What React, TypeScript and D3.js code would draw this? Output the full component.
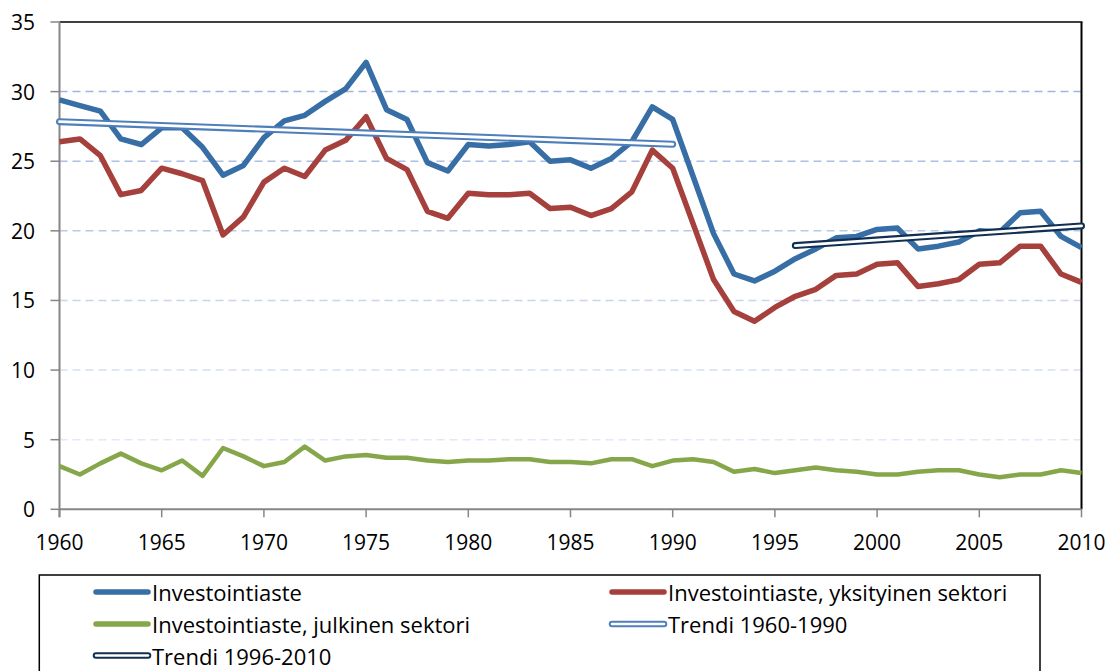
import * as d3 from 'd3';

const years = d3.range(1960, 2011);

const total = [
  29.4, 29.0, 28.6, 26.6, 26.2, 27.4, 27.4, 26.0, 24.0, 24.7,
  26.7, 27.9, 28.3, 29.3, 30.2, 32.1, 28.7, 28.0, 24.9, 24.3,
  26.2, 26.1, 26.2, 26.4, 25.0, 25.1, 24.5, 25.2, 26.4, 28.9,
  28.0, 23.9, 19.8, 16.9, 16.4, 17.1, 18.0, 18.7, 19.5, 19.6,
  20.1, 20.2, 18.7, 18.9, 19.2, 20.0, 19.9, 21.3, 21.4, 19.6,
  18.8,
];

const privateSector = [
  26.4, 26.6, 25.4, 22.6, 22.9, 24.5, 24.1, 23.6, 19.7, 21.0,
  23.5, 24.5, 23.9, 25.8, 26.5, 28.2, 25.2, 24.4, 21.4, 20.9,
  22.7, 22.6, 22.6, 22.7, 21.6, 21.7, 21.1, 21.6, 22.8, 25.8,
  24.5, 20.5, 16.5, 14.2, 13.5, 14.5, 15.3, 15.8, 16.8, 16.9,
  17.6, 17.7, 16.0, 16.2, 16.5, 17.6, 17.7, 18.9, 18.9, 16.9,
  16.3,
];

const publicSector = [
  3.1, 2.5, 3.3, 4.0, 3.3, 2.8, 3.5, 2.4, 4.4, 3.8,
  3.1, 3.4, 4.5, 3.5, 3.8, 3.9, 3.7, 3.7, 3.5, 3.4,
  3.5, 3.5, 3.6, 3.6, 3.4, 3.4, 3.3, 3.6, 3.6, 3.1,
  3.5, 3.6, 3.4, 2.7, 2.9, 2.6, 2.8, 3.0, 2.8, 2.7,
  2.5, 2.5, 2.7, 2.8, 2.8, 2.5, 2.3, 2.5, 2.5, 2.8,
  2.6,
];

const trend1960 = [
  { year: 1960, value: 27.84 },
  { year: 1990, value: 26.22 },
];
const trend1996 = [
  { year: 1996, value: 18.94 },
  { year: 2010, value: 20.35 },
];

const yTicks = [0, 5, 10, 15, 20, 25, 30, 35];
const xTicks = [1960, 1965, 1970, 1975, 1980, 1985, 1990, 1995, 2000, 2005, 2010];

const BLUE = '#386ea6';
const RED = '#a5403c';
const GREEN = '#86a64a';
const TREND1 = '#4f7fbb';
const TREND2 = '#112f52';
const FONT = '"Open Sans", Lato, sans-serif';

const legendItems = [
  { label: 'Investointiaste', color: BLUE, double: false, col: 0, row: 0 },
  { label: 'Investointiaste, yksityinen sektori', color: RED, double: false, col: 1, row: 0 },
  { label: 'Investointiaste, julkinen sektori', color: GREEN, double: false, col: 0, row: 1 },
  { label: 'Trendi 1960-1990', color: TREND1, double: true, col: 1, row: 1 },
  { label: 'Trendi 1996-2010', color: TREND2, double: true, col: 0, row: 2 },
];

export default function App() {
  const width = 1116;
  const height = 671;
  const left = 59.5;
  const right = 1081.5;
  const top = 22;
  const bottom = 509.3;

  const x = d3.scaleLinear().domain([1960, 2010]).range([left, right]);
  const y = d3.scaleLinear().domain([0, 35]).range([bottom, top]);

  const line = d3
    .line<number>()
    .x((_, i) => x(years[i]))
    .y((d) => y(d));

  const trendLine = d3
    .line<{ year: number; value: number }>()
    .x((d) => x(d.year))
    .y((d) => y(d.value));

  const gridColor = d3.scaleLinear<string>().domain([5, 30]).range(['#e2e9f5', '#a0b6e0']);

  const legendColX = [96, 612];
  const legendRowY = [592, 624, 655.5];

  return (
    <div style={{ position: 'absolute', left: 0, top: 0 }}>
      <svg width={width} height={height} style={{ display: 'block', background: '#fff' }}>
        {/* gridlines */}
        {yTicks
          .filter((t) => t > 0 && t < 35)
          .map((t) => (
            <line
              key={'g' + t}
              x1={left}
              x2={right}
              y1={y(t)}
              y2={y(t)}
              stroke={gridColor(t)}
              strokeWidth={1.5}
              strokeDasharray="8,5"
            />
          ))}

        {/* frame */}
        <line x1={left} x2={right + 1} y1={top} y2={top} stroke="#000" strokeWidth={1.5} />
        <line x1={right} x2={right} y1={top} y2={bottom} stroke="#000" strokeWidth={2} />
        <line x1={left} x2={left} y1={top} y2={bottom + 8} stroke="#868686" strokeWidth={2} />
        <line x1={left} x2={right} y1={bottom} y2={bottom} stroke="#868686" strokeWidth={2} />

        {/* y axis ticks */}
        {yTicks.map((t) => (
          <g key={'y' + t}>
            <line x1={left - 9} x2={left} y1={y(t)} y2={y(t)} stroke="#868686" strokeWidth={1.5} />
            <text
              x={35}
              y={y(t)}
              textAnchor="end"
              dominantBaseline="central"
              fontFamily={FONT}
              fontSize={21}
              fill="#000"
            >
              {t}
            </text>
          </g>
        ))}

        {/* x axis ticks */}
        {xTicks.map((t) => (
          <g key={'x' + t}>
            <line x1={x(t)} x2={x(t)} y1={bottom} y2={bottom + 8} stroke="#868686" strokeWidth={1.5} />
            <text
              x={x(t)}
              y={541.5}
              textAnchor="middle"
              dominantBaseline="central"
              fontFamily={FONT}
              fontSize={21}
              fill="#000"
            >
              {t}
            </text>
          </g>
        ))}

        {/* series */}
        <path d={line(publicSector) ?? ''} fill="none" stroke={GREEN} strokeWidth={4.5} strokeLinejoin="round" />
        <path d={line(privateSector) ?? ''} fill="none" stroke={RED} strokeWidth={5.5} strokeLinejoin="round" />
        <path d={line(total) ?? ''} fill="none" stroke={BLUE} strokeWidth={5.5} strokeLinejoin="round" />

        {/* trends: double line */}
        {[
          { data: trend1960, color: TREND1 },
          { data: trend1996, color: TREND2 },
        ].map((t, i) => (
          <g key={'t' + i}>
            <path d={trendLine(t.data) ?? ''} fill="none" stroke={t.color} strokeWidth={7} strokeLinecap="round" />
            <path d={trendLine(t.data) ?? ''} fill="none" stroke="#fff" strokeWidth={2.8} strokeLinecap="round" />
          </g>
        ))}

        {/* legend */}
        <rect x={39.3} y={575} width={1000.7} height={120} fill="none" stroke="#000" strokeWidth={1.5} />
        {legendItems.map((item) => {
          const lx = legendColX[item.col];
          const ly = legendRowY[item.row];
          return (
            <g key={item.label}>
              {item.double ? (
                <>
                  <line x1={lx} x2={lx + 52} y1={ly} y2={ly} stroke={item.color} strokeWidth={6.5} strokeLinecap="round" />
                  <line x1={lx} x2={lx + 52} y1={ly} y2={ly} stroke="#fff" strokeWidth={2.5} strokeLinecap="round" />
                </>
              ) : (
                <line x1={lx} x2={lx + 52} y1={ly} y2={ly} stroke={item.color} strokeWidth={5.5} strokeLinecap="round" />
              )}
              <text
                x={lx + 56}
                y={ly}
                dominantBaseline="central"
                fontFamily={FONT}
                fontSize={22}
                fill="#000"
              >
                {item.label}
              </text>
            </g>
          );
        })}
      </svg>
    </div>
  );
}
